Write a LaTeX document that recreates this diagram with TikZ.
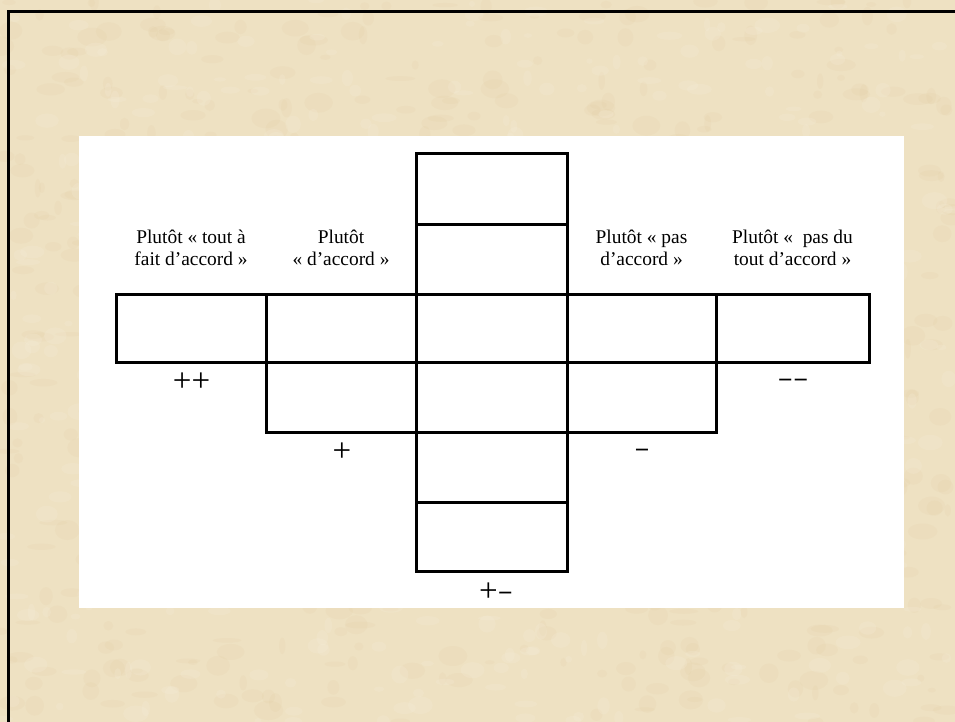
\documentclass[tikz,border=0pt]{standalone}
\usepackage{graphicx}
\usepackage{fontspec}
\setmainfont{Liberation Serif}
\definecolor{parch}{RGB}{238,225,194}
\definecolor{parchdark}{RGB}{216,190,140}
\definecolor{parchlight}{RGB}{248,241,224}
\newcommand{\thindash}{\raisebox{0.075em}{\scalebox{1.4}[0.7]{-}}}
\begin{document}
\begin{tikzpicture}[x=1pt,y=-1pt,
  cell/.style={draw=black, line width=3pt, fill=white, inner sep=0pt, outer sep=0pt, anchor=north west},
  lab/.style={align=center, anchor=base, font=\fontsize{19.4}{22}\selectfont, inner sep=0pt},
  sign/.style={font=\fontsize{33}{33}\selectfont, inner sep=0pt}]
\useasboundingbox (0,0) rectangle (955,722);
% parchment background
\fill[parch] (0,0) rectangle (955,722);
\begin{scope}
\clip (0,0) rectangle (955,722);
\pgfmathsetseed{11}
\foreach \i in {1,...,700}{
  \pgfmathsetmacro\px{rnd*955}
  \pgfmathsetmacro\py{rnd*722}
  \pgfmathsetmacro\rx{3+rnd*12}
  \pgfmathsetmacro\ry{2+rnd*8}
  \fill[parchdark, opacity=0.09] (\px,\py) ellipse ({\rx pt} and {\ry pt});
}
\foreach \i in {1,...,500}{
  \pgfmathsetmacro\px{rnd*955}
  \pgfmathsetmacro\py{rnd*722}
  \pgfmathsetmacro\rx{3+rnd*10}
  \pgfmathsetmacro\ry{2+rnd*7}
  \fill[parchlight, opacity=0.18] (\px,\py) ellipse ({\rx pt} and {\ry pt});
}
\end{scope}
% frame
\draw[line width=2.7pt] (8.7,722) -- (8.7,11.3) -- (955,11.3);
% white panel
\fill[white] (79,136) rectangle (904,608);
% central column
\node[cell, minimum width=151pt, minimum height=70pt] (c1) at (416,154) {};
\node[cell, minimum width=151pt, minimum height=70pt] (c2) at (416,224) {};
\node[cell, minimum width=151pt, minimum height=68pt] (c3) at (416,294) {};
\node[cell, minimum width=151pt, minimum height=70pt] (c4) at (416,362) {};
\node[cell, minimum width=151pt, minimum height=70pt] (c5) at (416,432) {};
\node[cell, minimum width=151pt, minimum height=69pt] (c6) at (416,502) {};
% middle row
\node[cell, minimum width=150pt, minimum height=68pt] (r1) at (116,294) {};
\node[cell, minimum width=150pt, minimum height=68pt] (r2) at (266,294) {};
\node[cell, minimum width=149pt, minimum height=68pt] (r4) at (567,294) {};
\node[cell, minimum width=153pt, minimum height=68pt] (r5) at (716,294) {};
% second row
\node[cell, minimum width=150pt, minimum height=70pt] (q2) at (266,362) {};
\node[cell, minimum width=149pt, minimum height=70pt] (q4) at (567,362) {};
% labels (anchor=base is the baseline of the last line)
\node[lab] (l1) at (191,265) {Plutôt « tout à\\fait d’accord »};
\node[lab] (l2) at (341,265) {Plutôt\\« d’accord »};
\node[lab] (l4) at (641.5,265) {Plutôt « pas\\d’accord »};
\node[lab] (l5) at (792.5,265) {Plutôt «\ \ pas du\\tout d’accord »};
% signs
\node[sign] (s1) at (191.5,382) {++};
\node[sign] (s2) at (342,452) {+};
\node[sign] (s3) at (793,384) {\thindash\thindash};
\node[sign] (s4) at (642,454) {\thindash};
\node[sign] (s5) at (496,592) {+\thindash};
\end{tikzpicture}
\end{document}
